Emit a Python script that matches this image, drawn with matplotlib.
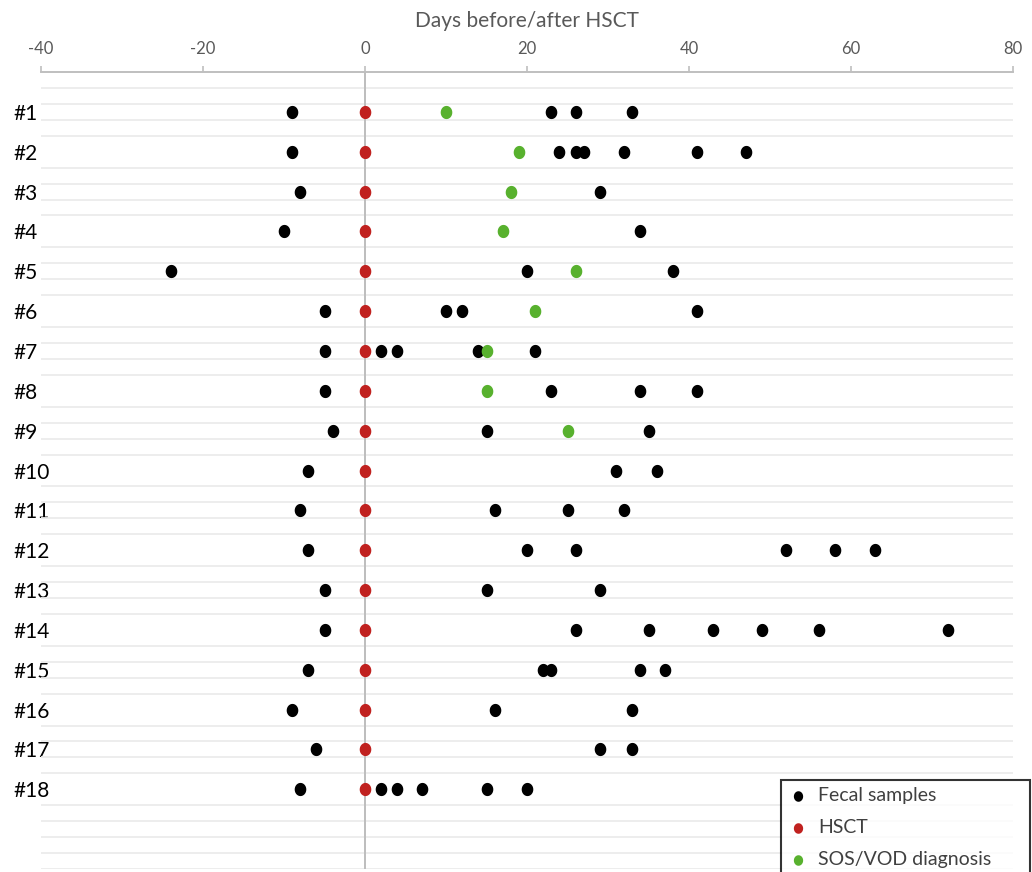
import matplotlib.pyplot as plt
import numpy as np

plt.rcParams['font.family'] = ['Lato', 'DejaVu Sans']

patients = ["#%d" % i for i in range(1, 19)]

# fecal sample days per patient (days relative to HSCT)
fecal_days = [
    [-9, 23, 26, 33],
    [-9, 24, 26, 27, 32, 41, 47],
    [-8, 29],
    [-10, 34],
    [-24, 20, 38],
    [-5, 10, 12, 41],
    [-5, 2, 4, 14, 21],
    [-5, 23, 34, 41],
    [-4, 15, 35],
    [-7, 31, 36],
    [-8, 16, 25, 32],
    [-7, 20, 26, 52, 58, 63],
    [-5, 15, 29],
    [-5, 26, 35, 43, 49, 56, 72],
    [-7, 22, 23, 34, 37],
    [-9, 16, 33],
    [-6, 29, 33],
    [-8, 2, 4, 7, 15, 20],
]

hsct_day = 0

# SOS/VOD diagnosis day, only patients #1-#9
sos_patients = [1, 2, 3, 4, 5, 6, 7, 8, 9]
sos_days = [10, 19, 18, 17, 26, 21, 15, 15, 25]

xticks = [-40, -20, 0, 20, 40, 60, 80]

# ellipse marker, a bit taller than wide like the original
t = np.linspace(0, 2 * np.pi, 60)
ell = np.column_stack([0.88 * np.cos(t), np.sin(t)])

fig = plt.figure(figsize=(10.32, 8.72), dpi=100)
ax = fig.add_axes([41 / 1032, 3 / 872, 972 / 1032, 797 / 872])

fx, fy = [], []
for i, days in enumerate(fecal_days):
    for d in days:
        fx.append(d)
        fy.append(i + 1)

rows = np.arange(1, len(patients) + 1)
ms = 90
ax.scatter(fx, fy, s=ms, marker=ell, color='black', lw=0, zorder=3, label='Fecal samples')
ax.scatter([hsct_day] * len(rows), rows, s=ms, marker=ell, color='#c0211f', lw=0, zorder=4, label='HSCT')
ax.scatter(sos_days, sos_patients, s=ms, marker=ell, color='#58b12e', lw=0, zorder=5, label='SOS/VOD diagnosis')

ax.axvline(0, color='#bdbdbd', lw=1.4, zorder=2)

ax.set_xlim(-40, 80)
ax.set_ylim(20, 0)
ax.xaxis.tick_top()
ax.xaxis.set_label_position('top')
ax.set_xticks(xticks)
ax.set_xticklabels([str(v) for v in xticks])
ax.tick_params(axis='x', direction='out', length=4, width=1.2, color='#bfbfbf',
               labelsize=12, labelcolor='#595959', pad=7)
ax.set_xlabel("Days before/after HSCT", fontsize=15, color='#595959', labelpad=10)

ax.set_yticks(rows)
ax.set_yticklabels(patients, fontsize=15, color='black', ha='left')
ax.tick_params(axis='y', length=0, pad=19.5)
ax.set_yticks(np.arange(0.4, 20.01, 0.4), minor=True)
ax.tick_params(axis='y', which='minor', length=0)
ax.grid(which='minor', axis='y', color='#ececec', lw=1.3, zorder=0)
ax.set_axisbelow(True)

for side in ['left', 'right', 'bottom']:
    ax.spines[side].set_visible(False)
ax.spines['top'].set_color('#bfbfbf')
ax.spines['top'].set_linewidth(1.4)

leg = fig.legend(loc='upper left', bbox_to_anchor=(781 / 1032, -0.2, 249 / 1032, 0.2 + 92 / 872),
                 mode='expand', fontsize=14, frameon=True, fancybox=False, edgecolor='black',
                 handlelength=1.0, handletextpad=0.55, labelspacing=0.78, borderpad=0.35,
                 markerscale=0.8, borderaxespad=0)
leg.get_frame().set_linewidth(1.5)
for txt in leg.get_texts():
    txt.set_color('#404040')

fig.savefig('out.png', dpi=100)
